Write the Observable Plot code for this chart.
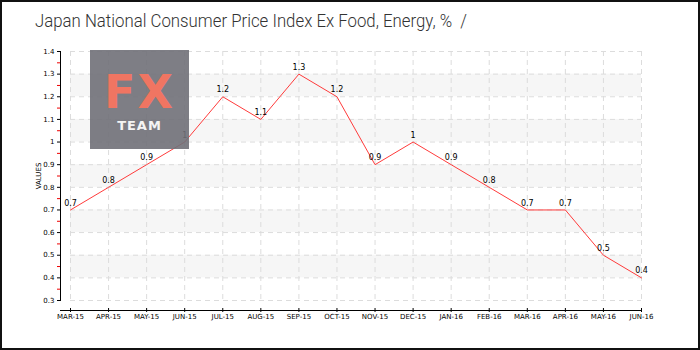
<!DOCTYPE html>
<html>
<head>
<meta charset="utf-8">
<script src="https://cdn.jsdelivr.net/npm/d3@7"></script>
<script src="https://cdn.jsdelivr.net/npm/@observablehq/plot@0.6"></script>
<style>
  html, body { margin: 0; padding: 0; background: #fff; }
  #wrap { position: relative; width: 700px; height: 350px; overflow: hidden; }
  #border { position: absolute; left: 0; top: 0; width: 700px; height: 350px; box-sizing: border-box; border: 2px solid #111; pointer-events: none; z-index: 5; }
  #title { position: absolute; left: 35px; top: 9px; font-family: Roboto, "DejaVu Sans Condensed", sans-serif; font-weight: 300; font-size: 19px; color: #333; white-space: pre; z-index: 3; transform-origin: 0 0; }
  #logo { position: absolute; left: 90px; top: 50px; width: 99px; height: 99px; background: rgba(112,112,120,0.9); z-index: 3; }
  #logo .fx { position: absolute; left: 0; width: 99px; top: 23px; text-align: center; font-family: "DejaVu Sans", sans-serif; font-weight: bold; font-size: 46px; line-height: 38px; height: 38px; color: #f07562; letter-spacing: 2px; }
  #logo .team { position: absolute; left: 0; width: 99px; top: 69px; text-align: center; font-family: "DejaVu Sans", sans-serif; font-weight: bold; font-size: 13px; line-height: 13px; color: #f4f4f4; letter-spacing: 1px; }
  #chart { position: absolute; left: 0; top: 0; }
</style>
</head>
<body>
<div id="wrap">
  <div id="chart"></div>
  <div id="logo"><div class="fx">FX</div><div class="team">TEAM</div></div>
  <div id="title">Japan National Consumer Price Index Ex Food, Energy, %  /</div>
  <div id="border"></div>
</div>
<script>
const months = ["MAR-15","APR-15","MAY-15","JUN-15","JUL-15","AUG-15","SEP-15","OCT-15","NOV-15","DEC-15","JAN-16","FEB-16","MAR-16","APR-16","MAY-16","JUN-16"];
const values = [0.7, 0.8, 0.9, 1.0, 1.2, 1.1, 1.3, 1.2, 0.9, 1.0, 0.9, 0.8, 0.7, 0.7, 0.5, 0.4];
const yTicks = [0.3, 0.4, 0.5, 0.6, 0.7, 0.8, 0.9, 1.0, 1.1, 1.2, 1.3, 1.4];
const yMinor = [0.35, 0.45, 0.55, 0.65, 0.75, 0.85, 0.95, 1.05, 1.15, 1.25, 1.35];
const bandLows = [0.4, 0.6, 0.8, 1.0, 1.2];

const fmt = d => (Math.abs(d - 1) < 1e-9 ? "1" : d.toFixed(1));
const idx = months.map((m, i) => i);
const data = months.map((m, i) => ({i, m, v: values[i]}));
const bands = bandLows.map(lo => ({lo, hi: +(lo + 0.1).toFixed(1)}));
const last = months.length - 1;

const chart = Plot.plot({
  width: 700,
  height: 350,
  marginLeft: 60,
  marginRight: 59,
  marginTop: 51,
  marginBottom: 50,
  style: {fontFamily: "DejaVu Sans, sans-serif", background: "transparent", color: "#000"},
  x: {type: "linear", domain: [0, last], range: [70, 641], axis: null},
  y: {domain: [0.3, 1.4], axis: null},
  marks: [
    Plot.rect(bands, {x1: 0, x2: last, y1: "lo", y2: "hi", fill: "#f6f6f6"}),
    Plot.ruleY(yTicks, {x1: 0, x2: last, stroke: "#dcdcdc", strokeDasharray: "5,4"}),
    Plot.ruleX(idx, {stroke: "#dcdcdc", strokeDasharray: "5,4"}),
    Plot.frame({anchor: "left", stroke: "#000"}),
    Plot.ruleY([0.3], {dy: 10, stroke: "#000"}),
    Plot.axisY(yTicks, {anchor: "left", tickSize: 3, tickPadding: 3, tickFormat: fmt, fontSize: 7, stroke: "#000", label: "VALUES", labelArrow: "none", labelAnchor: "center", labelOffset: 24}),
    Plot.axisY(yMinor, {anchor: "left", tickSize: 3, tickFormat: () => "", stroke: "#e00", label: null}),
    Plot.axisX(idx, {anchor: "bottom", tickSize: 4, dy: 8, tickPadding: 2, tickFormat: i => months[i], fontSize: 7, stroke: "#000", label: null}),
    Plot.line(data, {x: "i", y: "v", stroke: "#ff3b3b", strokeWidth: 1}),
    Plot.text(data, {x: "i", y: "v", text: d => fmt(d.v), dy: -7, fontSize: 8, fill: "#000"})
  ]
});
document.getElementById("chart").appendChild(chart);
const t = document.getElementById("title");
const w = t.getBoundingClientRect().width;
const target = 432;
if (w > target) t.style.transform = `scaleX(${target / w})`;
</script>
</body>
</html>
